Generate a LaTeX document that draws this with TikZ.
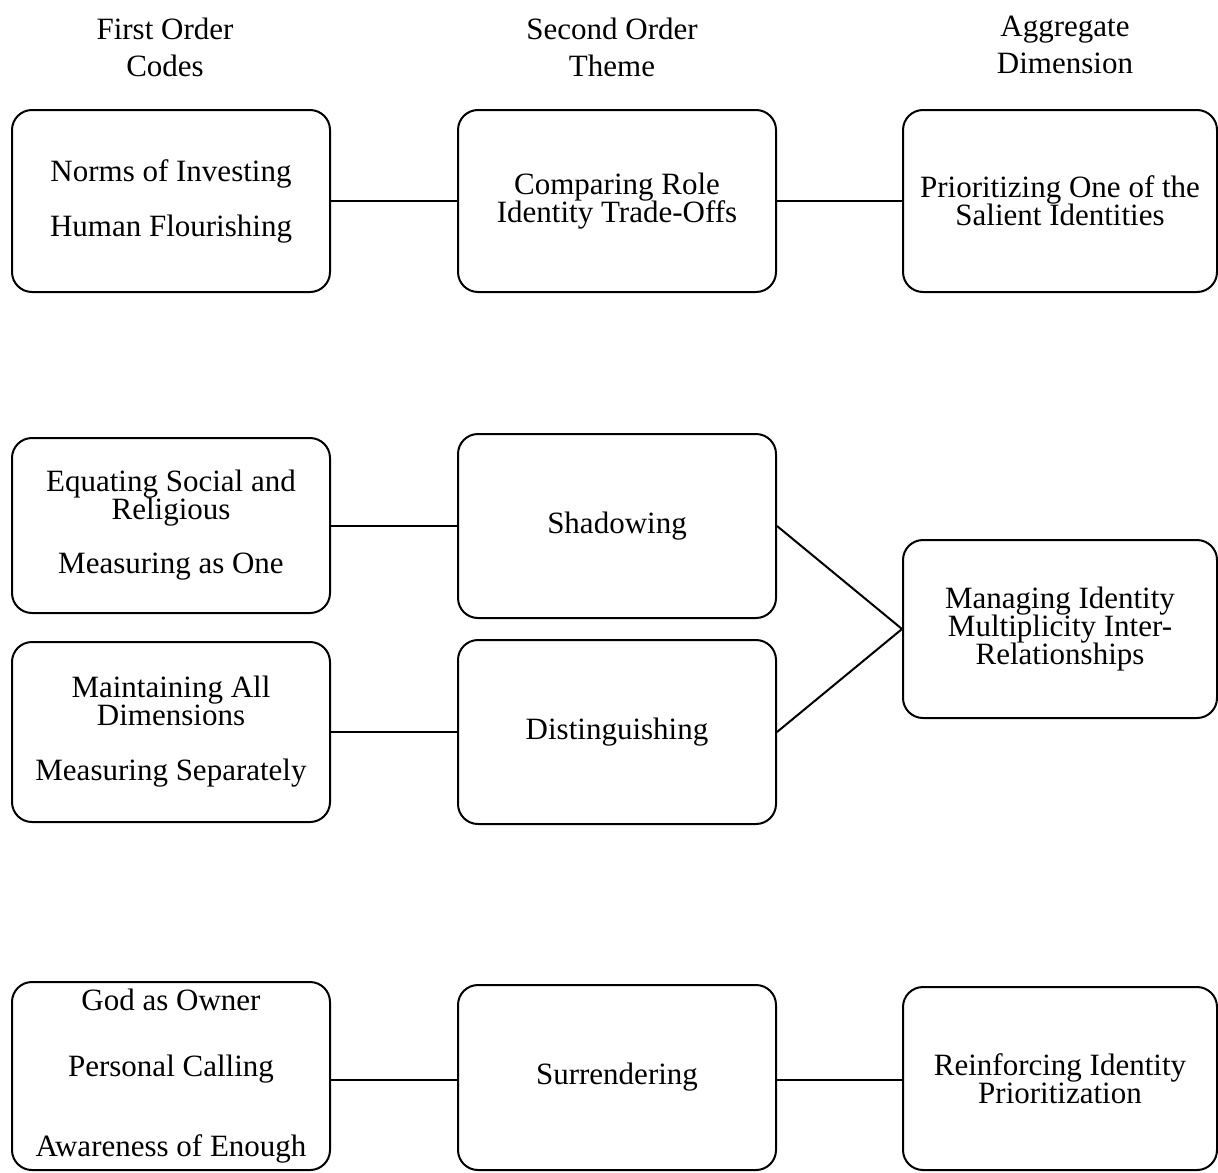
\documentclass[tikz,border=0pt]{standalone}
\usepackage{fontspec}
\setmainfont{Liberation Serif}
\usepackage{tikz}

\newcommand\boxfont{\fontsize{15.5pt}{14pt}\selectfont\lineskiplimit=-20pt}
\newcommand\headfont{\fontsize{15.5pt}{18.5pt}\selectfont}

\tikzset{
  box/.style={draw, line width=1pt, rounded corners=10pt, align=center,
    inner sep=0pt, font=\boxfont},
  head/.style={align=center, inner sep=0pt, font=\headfont},
  link/.style={line width=1pt}
}

\begin{document}
\begin{tikzpicture}[x=0.5pt, y=-0.5pt]
        \useasboundingbox (0, 0) rectangle (1218, 1172);

        % column headings
        \node[head] (hfirst) at (165, 47) {First Order\\Codes};
        \node[head] (hsecond) at (612, 47) {Second Order\\Theme};
        \node[head] (hagg) at (1065, 45) {Aggregate\\Dimension};

        % first row
        \node[box, minimum width=159pt, minimum height=91pt] (norms) at (171, 201)
            {Norms of Investing\\[13.5pt]Human Flourishing};
        \node[box, minimum width=159pt, minimum height=91pt] (compare) at (617, 201)
            {Comparing Role\\Identity Trade-Offs};
        \node[box, minimum width=157pt, minimum height=91pt] (prior) at (1060, 201)
            {Prioritizing One of the\\Salient Identities};

        % second row
        \node[box, minimum width=159pt, minimum height=87.5pt] (equate) at (171, 525.5)
            {Equating Social and\\Religious\\[13pt]Measuring as One};
        \node[box, minimum width=159pt, minimum height=92pt] (shadow) at (617, 526)
            {Shadowing};
        \node[box, minimum width=159pt, minimum height=90pt] (maintain) at (171, 732)
            {Maintaining All\\Dimensions\\[13.5pt]Measuring Separately};
        \node[box, minimum width=159pt, minimum height=92pt] (disting) at (617, 732)
            {Distinguishing};
        \node[box, minimum width=157pt, minimum height=89pt] (manage) at (1060, 629)
            {Managing Identity\\Multiplicity Inter-\\Relationships};

        % third row
        \node[box, minimum width=159pt, minimum height=94pt] (god) at (171, 1076)
            {God as Owner\\[19pt]Personal Calling\\[26pt]Awareness of Enough};
        \node[box, minimum width=159pt, minimum height=92.5pt] (surrender) at (617, 1077.5)
            {Surrendering};
        \node[box, minimum width=157pt, minimum height=91.5pt] (reinforce) at (1060, 1078.5)
            {Reinforcing Identity\\Prioritization};
        \coordinate (rowthree) at (0, 1080);

        % connectors
        \draw[link] (norms.east |- compare.west) -- (compare.west);
        \draw[link] (compare.east) -- (prior.west);
        \draw[link] (equate.east) -- (shadow.west |- equate.east);
        \draw[link] (maintain.east) -- (disting.west |- maintain.east);
        \draw[link] (shadow.east) -- (manage.west);
        \draw[link] (disting.east) -- (manage.west);
        \draw[link] (god.east |- rowthree) -- (surrender.west |- rowthree);
        \draw[link] (surrender.east |- rowthree) -- (reinforce.west |- rowthree);
    \end{tikzpicture}
\end{document}
